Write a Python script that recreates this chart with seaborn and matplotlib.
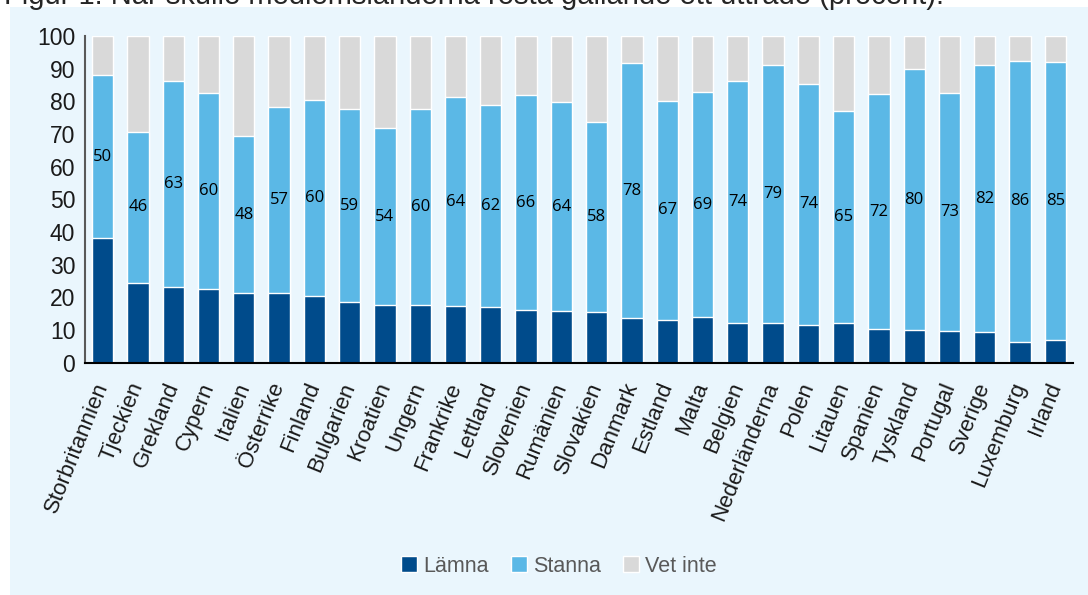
import pandas as pd
import matplotlib.pyplot as plt
import seaborn as sns
from matplotlib.patches import Rectangle, Patch
from matplotlib.ticker import FixedLocator

# Data (procent)
LAND = ["Storbritannien", "Tjeckien", "Grekland", "Cypern", "Italien", "Österrike",
        "Finland", "Bulgarien", "Kroatien", "Ungern", "Frankrike", "Lettland",
        "Slovenien", "Rumänien", "Slovakien", "Danmark", "Estland", "Malta",
        "Belgien", "Nederländerna", "Polen", "Litauen", "Spanien", "Tyskland",
        "Portugal", "Sverige", "Luxemburg", "Irland"]
LAMNA = [38.0, 24.5, 23.1, 22.5, 21.3, 21.2, 20.3, 18.5, 17.7, 17.6, 17.3, 16.9,
         16.0, 15.7, 15.6, 13.6, 13.1, 13.8, 12.1, 12.0, 11.4, 12.0, 10.2, 9.9,
         9.5, 9.2, 6.4, 7.0]
STANNA = [50, 46, 63, 60, 48, 57, 60, 59, 54, 60, 64, 62, 66, 64, 58, 78, 67, 69,
          74, 79, 74, 65, 72, 80, 73, 82, 86, 85]
VET_INTE = [12.0, 29.5, 13.9, 17.5, 30.7, 21.8, 19.7, 22.5, 28.3, 22.4, 18.7, 21.1,
            18.0, 20.3, 26.4, 8.4, 19.9, 17.2, 13.9, 9.0, 14.6, 23.0, 17.8, 10.1,
            17.5, 8.8, 7.6, 8.0]

TITLE = "Figur 1. När skulle medlemsländerna rösta gällande ett utträde (procent)."

C_LAMNA = "#004B8B"
C_STANNA = "#5BB8E6"
C_VET = "#D9D9D9"
BG = "#EAF6FD"
NARROW = ["Liberation Sans Narrow", "Liberation Sans", "DejaVu Sans"]


def build_frame():
    df = pd.DataFrame({"land": LAND, "lamna": LAMNA, "stanna": STANNA, "vet": VET_INTE})
    df["top_stanna"] = df["lamna"] + df["stanna"]
    df["top_vet"] = df["top_stanna"] + df["vet"]
    return df


def plot_chart(df):
    sns.set_style("white")
    plt.rcParams["font.family"] = NARROW

    fig = plt.figure(figsize=(10.88, 5.95), dpi=100)
    fig.patch.set_facecolor("white")
    fig.patches.append(Rectangle((10 / 1088, 0), 1, 1 - 7 / 595, transform=fig.transFigure,
                                 facecolor=BG, edgecolor="none", zorder=-10))
    # title is cut at the top edge in the original
    fig.text(4 / 1088, 1 - 4 / 595, TITLE, fontsize=21, color="#262626",
             va="baseline", ha="left", family=["Liberation Sans", "DejaVu Sans"])

    ax = fig.add_axes([85 / 1088, 1 - 362.5 / 595, 988 / 1088, 326.5 / 595])
    ax.set_facecolor(BG)

    # stacked bars drawn as cumulative totals, back to front
    sns.barplot(data=df, x="land", y="top_vet", color=C_VET, width=0.6,
                saturation=1, errorbar=None, ax=ax)
    sns.barplot(data=df, x="land", y="top_stanna", color=C_STANNA, width=0.6,
                saturation=1, errorbar=None, ax=ax)
    sns.barplot(data=df, x="land", y="lamna", color=C_LAMNA, width=0.6,
                saturation=1, errorbar=None, ax=ax)

    for i, row in df.iterrows():
        ax.text(i, row["lamna"] + row["stanna"] / 2, f"{row['stanna']:.0f}",
                ha="center", va="center", fontsize=12, family="Open Sans", color="black")

    ax.set_xlim(-0.5, len(df) - 0.5)
    ax.set_ylim(0, 100)
    ax.set_yticks(range(0, 101, 10))
    ax.set_xlabel("")
    ax.set_ylabel("")

    ax.xaxis.set_minor_locator(FixedLocator([i - 0.5 for i in range(len(df) + 1)]))
    ax.tick_params(axis="x", which="major", length=0, pad=15)
    ax.tick_params(axis="x", which="minor", length=6, width=1.3, color="black", direction="out")
    ax.tick_params(axis="y", length=5, width=1.2, color="#595959", direction="out",
                   labelsize=16.5, labelcolor="#1a1a1a", pad=2)
    plt.setp(ax.get_xticklabels(), rotation=68, ha="right", va="center",
             rotation_mode="anchor", fontsize=16, color="#1a1a1a")

    sns.despine(ax=ax)
    ax.spines["left"].set_color("#595959")
    ax.spines["left"].set_linewidth(1.5)
    ax.spines["bottom"].set_color("black")
    ax.spines["bottom"].set_linewidth(1.5)

    handles = [Patch(facecolor=C_LAMNA, label="Lämna"),
               Patch(facecolor=C_STANNA, label="Stanna"),
               Patch(facecolor=C_VET, label="Vet inte")]
    leg = fig.legend(handles=handles, loc="center", bbox_to_anchor=(559 / 1088, 29 / 595),
                     ncol=3, frameon=False, fontsize=15.5, handlelength=0.75, handleheight=0.75,
                     handletextpad=0.3, columnspacing=1.0)
    for t in leg.get_texts():
        t.set_color("#595959")

    fig.savefig("out.png", dpi=100, facecolor=fig.get_facecolor())


if __name__ == "__main__":
    df = build_frame()
    plot_chart(df)
